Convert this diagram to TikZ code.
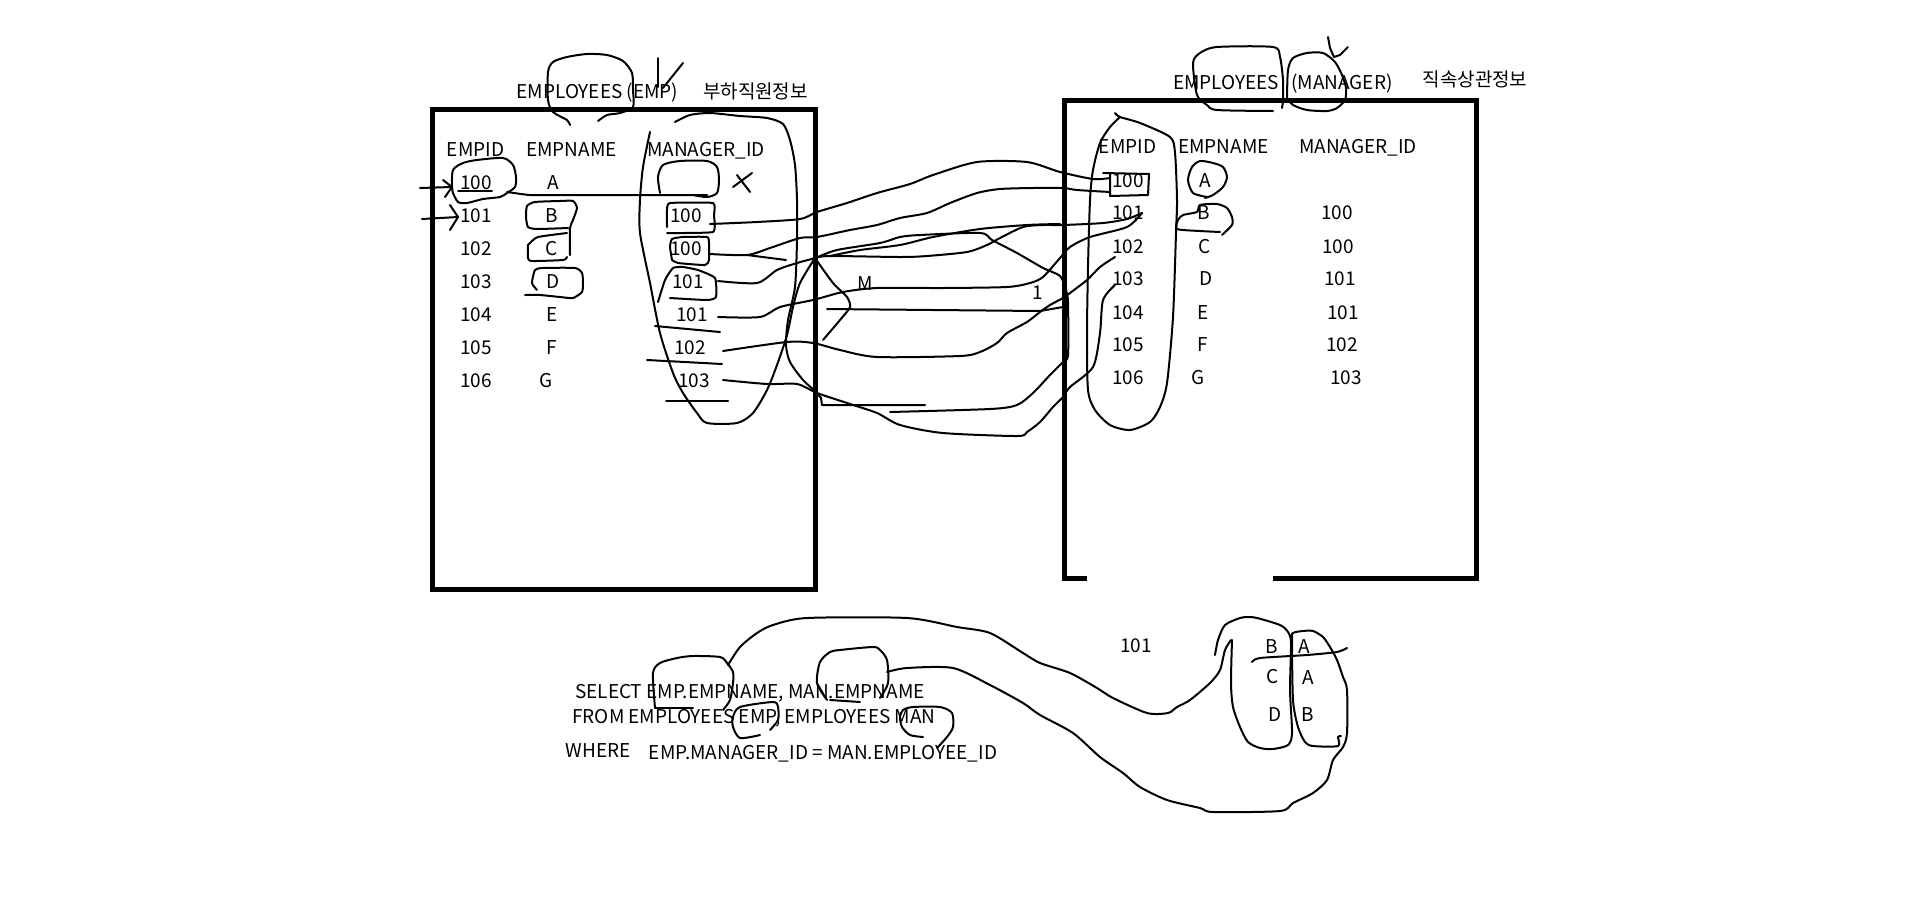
\documentclass[tikz,border=0pt]{standalone}
\usepackage{fontspec}
\setmainfont{Noto Sans CJK KR}
\begin{document}
\begin{tikzpicture}[x=1pt,y=-1pt,
  txt/.style={font=\fontsize{19}{19}\selectfont, inner sep=0pt, text height=13.5pt, text depth=0pt, anchor=center},
  ink/.style={line width=2pt, line cap=round, line join=round},
  frame/.style={line width=5pt, line join=miter, line cap=butt}]
\fill[white] (0,0) rectangle (1914,903);
\useasboundingbox (0,0) rectangle (1914,903);

% ---------- table frames ----------
\draw[frame] (432.5,109) rectangle (815.5,589);
\draw[frame] (1087,578) -- (1064,578) -- (1064,100) -- (1476,100) -- (1476,578) -- (1273,578);

% ---------- subordinate table (EMP) ----------
\node[txt] (tEmp) at (597.5,92) {EMPLOYEES (EMP)};
\node[txt] (tEmpKo) at (755.5,92) {부하직원정보};
\node[txt] (hEmpId) at (475.5,150) {EMPID};
\node[txt] (hEmpName) at (571.5,150) {EMPNAME};
\node[txt] (hEmpMgr) at (706,150) {MANAGER\_ID};

\node[txt] (e1id) at (476,183) {100}; \node[txt] (e1nm) at (553,183) {A};
\node[txt] (e2id) at (476,216) {101}; \node[txt] (e2nm) at (552,216) {B}; \node[txt] (e2mg) at (686,216) {100};
\node[txt] (e3id) at (476,249) {102}; \node[txt] (e3nm) at (552,249) {C}; \node[txt] (e3mg) at (686,249) {100};
\node[txt] (e4id) at (476,282) {103}; \node[txt] (e4nm) at (553,282) {D}; \node[txt] (e4mg) at (688,282) {101};
\node[txt] (e5id) at (476,315) {104}; \node[txt] (e5nm) at (552,315) {E}; \node[txt] (e5mg) at (692,315) {101};
\node[txt] (e6id) at (476,348) {105}; \node[txt] (e6nm) at (552,348) {F}; \node[txt] (e6mg) at (690,348) {102};
\node[txt] (e7id) at (476,381) {106}; \node[txt] (e7nm) at (546,381) {G}; \node[txt] (e7mg) at (694,381) {103};

% ---------- manager table (MANAGER) ----------
\node[txt] (tMgrA) at (1226,83) {EMPLOYEES};
\node[txt] (tMgrB) at (1342,83) {(MANAGER)};
\node[txt] (tMgrKo) at (1475,80) {직속상관정보};
\node[txt] (hMgrId) at (1127.5,147) {EMPID};
\node[txt] (hMgrName) at (1223.5,147) {EMPNAME};
\node[txt] (hMgrMgr) at (1358,147) {MANAGER\_ID};

\node[txt] (m1id) at (1128,181) {100}; \node[txt] (m1nm) at (1205,181) {A};
\node[txt] (m2id) at (1128,213) {101}; \node[txt] (m2nm) at (1204,213) {B}; \node[txt] (m2mg) at (1337,213) {100};
\node[txt] (m3id) at (1128,247) {102}; \node[txt] (m3nm) at (1205,247) {C}; \node[txt] (m3mg) at (1338,247) {100};
\node[txt] (m4id) at (1128,279) {103}; \node[txt] (m4nm) at (1206,279) {D}; \node[txt] (m4mg) at (1340,279) {101};
\node[txt] (m5id) at (1128,313) {104}; \node[txt] (m5nm) at (1203,313) {E}; \node[txt] (m5mg) at (1343,313) {101};
\node[txt] (m6id) at (1128,345) {105}; \node[txt] (m6nm) at (1203,345) {F}; \node[txt] (m6mg) at (1342,345) {102};
\node[txt] (m7id) at (1128,378) {106}; \node[txt] (m7nm) at (1198,378) {G}; \node[txt] (m7mg) at (1346,378) {103};

% cardinality marks
\node[txt] (cardM) at (865,284) {M};
\node[txt] (cardOne) at (1038,293) {1};

% ---------- query ----------
\node[txt] (qSel) at (750,692) {SELECT EMP.EMPNAME, MAN.EMPNAME};
\node[txt] (qFrom) at (754,717) {FROM EMPLOYEES EMP, EMPLOYEES MAN};
\node[txt] (qWhere) at (598,751) {WHERE};
\node[txt] (qCond) at (823,753) {EMP.MANAGER\_ID = MAN.EMPLOYEE\_ID};

% ---------- result ----------
\node[txt] (rKey) at (1136,646) {101};
\node[txt] (r1a) at (1272,647) {B}; \node[txt] (r1b) at (1304,647) {A};
\node[txt] (r2a) at (1273,677) {C}; \node[txt] (r2b) at (1308,678) {A};
\node[txt] (r3a) at (1275,715) {D}; \node[txt] (r3b) at (1308,715) {B};

% ================= freehand marks =================
% loop over the EMP title and check mark
\draw[ink] plot[smooth,tension=0.45] coordinates {(570,125)(567,120)(553,112)(548,100)(548,72)(553,62)(567,57)(587,54)(607,55)(623,61)(632,73)(633,90)(633,107)(620,113)(607,115)(598,121)};
\draw[ink] (658,58) -- (658,87);
\draw[ink] (683,63) -- (663,88);

% circled 100, arrows, row link
\draw[ink] plot[smooth,tension=0.45] coordinates {(453,193)(452,187)(453,170)(463,163)(477,160)(503,158)(513,165)(516,177)(515,187)(507,193)(500,197)(483,199)(467,203)(458,202)(453,193)};
\draw[ink] (458,191) -- (492,191);
\draw[ink] (420,188) -- (452,187);
\draw[ink] (443,180) -- (452,187) -- (445,197);
\draw[ink] (422,219) -- (458,217);
\draw[ink] (450,205) -- (458,217) -- (450,230);
\draw[ink] plot[smooth,tension=0.3] coordinates {(507,192)(530,195)(560,195)(707,195)};
\draw[ink] plot[smooth,tension=0.45] coordinates {(693,195)(707,197)(717,193)(719,180)(717,167)(707,161)(680,161)(663,165)(658,177)(660,193)};
\draw[ink] (733,187) -- (752,173);
\draw[ink] (737,175) -- (750,192);

% boxes around names B, C, D
\draw[ink] plot[smooth,tension=0.35] coordinates {(570,255)(570,228)(573,220)(577,208)(573,201)(560,201)(535,202)(527,206)(526,217)(528,227)(537,229)(568,228)};
\draw[ink] plot[smooth,tension=0.35] coordinates {(567,257)(563,260)(532,261)(528,258)(528,245)(530,243)(538,237)(567,233)};
\draw[ink] plot[smooth,tension=0.35] coordinates {(525,295)(540,295)(560,297)(573,298)(582,292)(583,283)(582,273)(575,268)(543,268)(535,270)(532,283)(537,290)};

% boxes and underlines in MANAGER_ID column
\draw[ink] plot[smooth,tension=0.25] coordinates {(667,227)(667,210)(670,203)(713,203)(714,215)(713,232)(667,233)};
\draw[ink] plot[smooth,tension=0.3] coordinates {(672,260)(670,247)(672,239)(683,237)(707,237)(709,243)(709,260)(705,265)(678,263)(672,260)};
\draw[ink] plot[smooth,tension=0.3] coordinates {(658,302)(665,280)(673,268)(683,267)(698,270)(715,278)(716,297)(707,300)(670,298)};
\draw[ink] (655,326) -- (720,332);
\draw[ink] (647,360) -- (722,364);
\draw[ink] (666,401) -- (728,401);

% outline of the MANAGER_ID column
\draw[ink] plot[smooth,tension=0.45] coordinates {(650,132)(643,167)(640,200)(640,233)(650,283)(660,333)(673,373)(683,393)(697,413)(707,423)(737,423)(753,413)(767,390)(777,365)(787,335)(793,307)(800,283)(815,258)};
\draw[ink] plot[smooth,tension=0.45] coordinates {(675,122)(690,115)(710,113)(740,116)(767,118)(783,124)(790,140)(795,165)(797,200)(797,240)(795,287)(788,320)(786,345)(790,362)(803,380)(815,391)(821,398)};
\draw[ink] (821,398) -- (822,405) -- (925,405);
\draw[ink] plot[smooth,tension=0.4] coordinates {(815,258)(833,283)(847,297)(850,307)(840,320)(823,340)};

% join lines between the two tables
\draw[ink] plot[smooth,tension=0.45] coordinates {(710,224)(757,222)(800,219)(817,212)(847,203)(877,193)(910,184)(933,175)(977,162)(1027,162)(1060,172)(1093,179)(1110,178)};
\draw[ink] plot[smooth,tension=0.45] coordinates {(710,254)(747,255)(770,248)(800,238)(817,237)(850,230)(877,225)(900,218)(927,213)(950,203)(977,193)(1000,189)(1033,188)(1063,188)(1077,190)(1110,192)};
\draw[ink] (747,255) -- (786,260);
\draw[ink] plot[smooth,tension=0.45] coordinates {(718,281)(757,283)(777,270)(797,263)(815,258)(837,250)(880,243)(900,237)(920,235)(980,233)(992,240)(1017,253)(1043,268)(1060,276)(1066,290)(1068,303)(1068,355)(1063,362)};
\draw[ink] plot[smooth,tension=0.45] coordinates {(815,258)(830,256)(900,257)(927,256)(967,252)(987,245)(1000,238)(1023,227)(1043,225)(1063,225)(1103,223)(1127,219)(1142,213)};
\draw[ink] plot[smooth,tension=0.45] coordinates {(830,256)(860,250)(900,245)(933,237)(980,229)(1027,225)(1060,224)};
\draw[ink] plot[smooth,tension=0.45] coordinates {(718,317)(760,317)(780,307)(813,300)(843,292)(877,288)(943,288)(1007,287)(1030,283)(1043,277)(1060,258)(1070,247)(1090,237)(1127,227)(1142,213)};
\draw[ink] (827,309) -- (1040,311) -- (1063,307);
\draw[ink] plot[smooth,tension=0.45] coordinates {(723,351)(787,342)(813,343)(840,350)(877,357)(960,356)(980,352)(997,343)(1007,333)(1027,322)(1040,312)(1050,305)(1063,298)(1070,293)(1087,280)(1100,267)(1115,257)};
\draw[ink] plot[smooth,tension=0.45] coordinates {(723,380)(767,384)(797,384)(817,393)(847,403)(877,413)(900,425)(943,433)(1017,436)(1027,432)(1040,422)(1053,407)(1063,397)(1070,387)(1093,367)(1100,333)(1103,300)(1115,285)};
\draw[ink] plot[smooth,tension=0.45] coordinates {(890,412)(990,409)(1017,405)(1033,393)(1050,375)(1063,362)};

% marks on the manager table
\draw[ink] plot[smooth,tension=0.45] coordinates {(1115,113)(1120,117)(1140,123)(1170,137)(1175,153)(1177,200)(1176,233)(1173,317)(1167,383)(1160,407)(1150,422)(1130,430)(1110,425)(1095,410)(1088,390)(1087,333)(1088,267)(1090,200)(1093,170)(1100,143)(1110,127)(1120,117)};
\draw[ink] (1103,173) -- (1149,174) -- (1148,195) -- (1110,196) -- (1110,174);
\draw[ink] plot[smooth,tension=0.45] coordinates {(1207,197)(1193,193)(1188,180)(1192,167)(1200,161)(1213,163)(1223,167)(1227,177)(1223,187)(1213,195)(1205,198)};
\draw[ink] plot[smooth,tension=0.4] coordinates {(1222,235)(1232,225)(1232,217)(1227,208)(1217,204)(1200,205)(1197,212)(1183,215)(1178,220)(1177,229)(1200,231)(1220,232)};
\draw[ink] plot[smooth,tension=0.45] coordinates {(1273,111)(1217,110)(1207,105)(1197,95)(1193,63)(1200,53)(1217,47)(1273,47)(1280,57)(1283,80)(1283,100)(1282,108)};
\draw[ink] plot[smooth,tension=0.45] coordinates {(1287,98)(1288,70)(1293,58)(1307,53)(1323,53)(1335,62)(1342,75)(1346,88)(1345,100)(1337,108)(1327,111)(1307,110)(1293,105)(1287,98)};
\draw[ink] (1328,37) -- (1330,48) -- (1334,57);
\draw[ink] (1348,47) -- (1340,55) -- (1334,57);

% marks on the query
\draw[ink] plot[smooth,tension=0.45] coordinates {(723,710)(730,700)(733,683)(733,672)(727,663)(720,657)(693,656)(677,658)(660,663)(653,673)(655,708)};
\draw[ink] (655,708) -- (693,708);
\draw[ink] plot[smooth,tension=0.45] coordinates {(760,735)(740,738)(733,727)(733,717)(740,707)(773,702)(778,707)(778,720)(770,730)};
\draw[ink] plot[smooth,tension=0.45] coordinates {(880,698)(888,683)(887,660)(880,650)(873,647)(840,650)(830,652)(820,662)(817,683)(827,700)};
\draw[ink] (830,700) -- (860,702);
\draw[ink] plot[smooth,tension=0.45] coordinates {(923,737)(910,735)(902,727)(900,717)(903,710)(913,707)(940,707)(952,713)(953,727)(947,737)(937,748)};

% curves leading to the result
\draw[ink] plot[smooth,tension=0.45] coordinates {(728,665)(740,647)(757,633)(773,625)(807,618)(907,618)(957,627)(990,633)(1023,653)(1040,663)(1070,673)(1097,688)(1113,698)(1147,713)(1168,713)(1177,707)(1190,700)(1210,683)(1220,670)(1225,650)(1231,640)};
\draw[ink] plot[smooth,tension=0.45] coordinates {(887,672)(907,668)(953,668)(990,685)(1023,703)(1040,715)(1073,733)(1100,757)(1123,773)(1140,787)(1167,800)(1200,808)(1213,812)(1280,811)(1293,803)(1313,793)(1327,780)(1333,760)(1343,747)(1347,733)(1347,690)(1343,677)(1337,660)(1330,647)(1323,637)(1313,631)(1303,631)(1293,633)(1292,640)(1293,700)(1298,727)(1305,742)(1313,746)(1338,746)(1338,737)(1341,736)};

% result outlines
\draw[ink] plot[smooth,tension=0.45] coordinates {(1215,655)(1218,640)(1225,625)(1240,618)(1248,617)(1257,618)(1280,625)(1288,632)(1291,643)(1290,690)(1292,733)(1288,745)(1273,749)(1260,748)(1248,742)(1240,727)(1233,707)(1231,683)(1232,640)};
\draw[ink] plot[smooth,tension=0.4] coordinates {(1252,662)(1260,658)(1307,655)(1337,652)(1347,648)};
\end{tikzpicture}
\end{document}
